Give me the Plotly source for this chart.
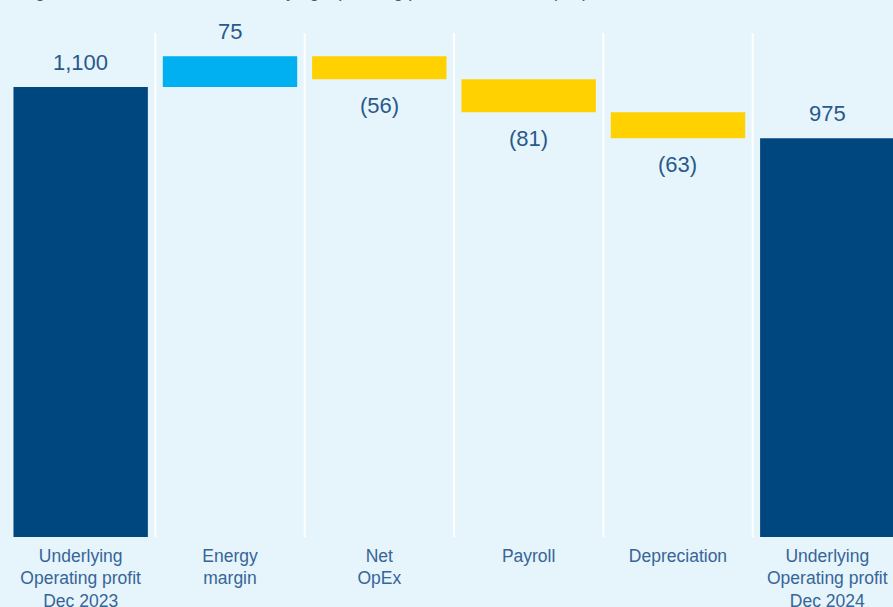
import plotly.graph_objects as go

categories = [
    "Underlying<br>Operating profit<br>Dec 2023",
    "Energy<br>margin",
    "Net<br>OpEx",
    "Payroll",
    "Depreciation",
    "Underlying<br>Operating profit<br>Dec 2024",
]
values = [1100, 75, -56, -81, -63, 975]
kinds = ["total", "increase", "decrease", "decrease", "decrease", "total"]
value_labels = ["1,100", "75", "(56)", "(81)", "(63)", "975"]
title_text = "Figure 1: Reconciliation of Underlying Operating profit movements (£m)"

colors = {"total": "#00467f", "increase": "#00b0f0", "decrease": "#ffd100"}
bg = "#e6f4fc"
text_col = "#29598b"
tick_col = "#366597"

# compute bases for the waterfall
bases, heights = [], []
running = 0
for v, k in zip(values, kinds):
    if k == "total":
        bases.append(0)
        heights.append(v)
        running = v
    else:
        bases.append(running)
        heights.append(v)
        running += v

fig = go.Figure()
fig.add_trace(go.Bar(
    x=list(range(len(categories))),
    y=heights,
    base=bases,
    marker=dict(color=[colors[k] for k in kinds], line=dict(width=0)),
    width=0.9,
    hoverinfo="skip",
))

annotations = []
for i, (b, h, lab) in enumerate(zip(bases, heights, value_labels)):
    top = max(b, b + h)
    bot = min(b, b + h)
    if h >= 0:
        annotations.append(dict(x=i, y=top, text=lab, showarrow=False,
                                yanchor="bottom", yshift=10,
                                font=dict(size=22, color=text_col, family="Liberation Sans")))
    else:
        annotations.append(dict(x=i, y=bot, text=lab, showarrow=False,
                                yanchor="top", yshift=-12,
                                font=dict(size=22, color=text_col, family="Liberation Sans")))

annotations.append(dict(xref="paper", yref="paper", x=0, y=1, xanchor="left", yanchor="bottom",
                        xshift=12, yshift=29.5, text=title_text, showarrow=False,
                        font=dict(size=18, color="#555555", family="Liberation Sans")))

shapes = []
for i in range(len(categories) - 1):
    shapes.append(dict(type="line", xref="x", yref="paper", x0=i + 0.5, x1=i + 0.5,
                       y0=0, y1=1, line=dict(color="#ffffff", width=2), layer="below"))

fig.update_layout(
    width=893, height=607,
    margin=dict(l=6, r=0, t=33, b=70, autoexpand=False),
    paper_bgcolor=bg, plot_bgcolor=bg,
    showlegend=False,
    bargap=0.1,
    annotations=annotations,
    shapes=shapes,
    font=dict(family="Liberation Sans"),
    hovermode=False,
)
fig.update_xaxes(
    tickmode="array", tickvals=list(range(len(categories))), ticktext=categories,
    range=[-0.5, 5.44], showgrid=False, zeroline=False, showline=False,
    tickfont=dict(size=17.5, color=tick_col, family="Liberation Sans"),
    ticks="", ticklabelstandoff=6, fixedrange=True, automargin=False,
)
fig.update_yaxes(range=[0, 1232], showgrid=False, zeroline=False, showticklabels=False,
                 showline=False, fixedrange=True, automargin=False)

fig.write_html(
    "out.html",
    config={"displayModeBar": False},
    post_script="document.body.style.margin='0';document.body.style.overflow='hidden';"
                "document.body.style.background='" + bg + "';",
)
